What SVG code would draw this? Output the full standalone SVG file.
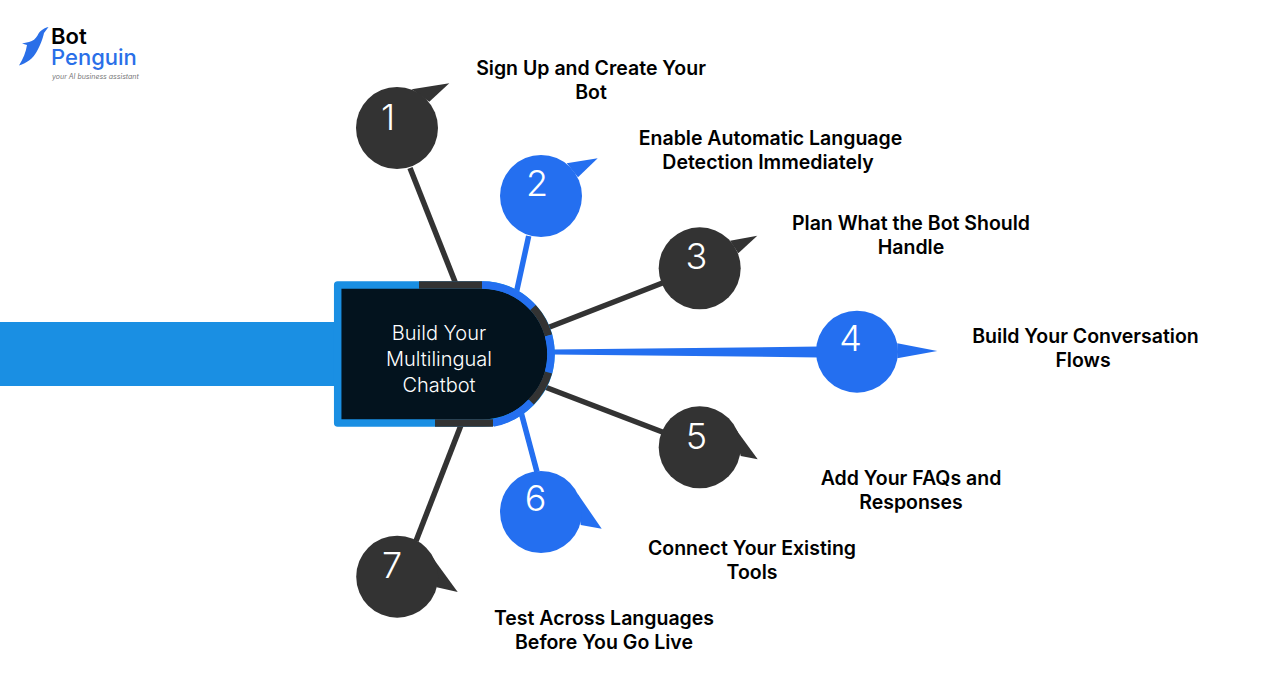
<svg xmlns="http://www.w3.org/2000/svg" width="1288" height="686" viewBox="0 0 1288 686">
<style>
.d{fill:#333333}.b{fill:#246ff0}
.ln{fill:none;stroke-width:5.5}.ld{stroke:#333333}.lb{stroke:#246ff0}
.rg{fill:none;stroke-width:7.5}
.n{font-family:Inter,"Liberation Sans",sans-serif;font-size:36px;font-weight:300;fill:#ffffff;text-anchor:middle}
.t{font-family:Inter,"Liberation Sans",sans-serif;font-size:19.5px;font-weight:600;fill:#000000;text-anchor:middle}
.c{font-family:Inter,"Liberation Sans",sans-serif;font-size:20px;font-weight:300;fill:#ffffff;text-anchor:middle}
</style>
<rect width="1288" height="686" fill="#ffffff"/>
<g id="logo">
<path d="M48.5,27 C43,28.5 39.5,31 37.5,35.5 C35.5,39 33,41 29,42 L22,43.5 L27,45 C26,52 23,59 19,65.5 C27,63 33,58.5 36.5,52 C40,46 43,38 44,33 Z" fill="#2a6fe8"/>
<text x="51" y="43.5" font-family="Inter,'Liberation Sans',sans-serif" font-size="22px" font-weight="600" fill="#000000">Bot</text>
<text x="51" y="65" font-family="Inter,'Liberation Sans',sans-serif" font-size="22px" font-weight="500" fill="#2a6fe8">Penguin</text>
<text x="52" y="79" font-family="Inter,'Liberation Sans',sans-serif" font-size="7px" font-style="italic" fill="#777777">your AI business assistant</text>
</g>
<g id="bar"><rect x="0" y="322" width="336" height="64" fill="#1a8fe3"/></g>
<g id="connectors">
<path class="ln ld" d="M410,168 L455.5,283"/>
<path class="ln lb" d="M528.7,236 L516.7,291"/>
<path class="ln ld" d="M547,328 L665,282"/>
<path class="b" d="M553,349.5 L820,346.5 L820,357.5 L553,354.5 Z"/>
<path class="ln ld" d="M545,387 L665,433"/>
<path class="ln lb" d="M521,412 L537,472"/>
<path class="ln ld" d="M463,420 L416,541"/>
</g>
<g id="center">
<path d="M337.7,285 L482,285 A69,69 0 0 1 482,423 L337.7,423 L337.7,285 Z" fill="#03131e" stroke="#1a8fe3" stroke-width="7.5" stroke-linejoin="round"/>
<path class="rg" stroke="#333333" d="M419,285 L482,285"/>
<path class="rg" stroke="#246ff0" d="M482,285 A69,69 0 0 1 533,307.5"/>
<path class="rg" stroke="#333333" d="M533,307.5 A69,69 0 0 1 548.5,335.5"/>
<path class="rg" stroke="#246ff0" d="M548.5,335.5 A69,69 0 0 1 548.5,372.5"/>
<path class="rg" stroke="#333333" d="M548.5,372.5 A69,69 0 0 1 531,402"/>
<path class="rg" stroke="#246ff0" d="M531,402 A69,69 0 0 1 493,423"/>
<path class="rg" stroke="#333333" d="M493,423 L435,423"/>
<text class="c"><tspan x="439" y="340">Build Your</tspan><tspan x="439" y="366">Multilingual</tspan><tspan x="439" y="392">Chatbot</tspan></text>
</g>
<g id="node1"><path class="d" d="M411.7,89.3 L449.3,83.3 L429.3,101.7 Z"/><circle class="d" cx="397" cy="128" r="41"/><text class="n" x="388" y="130">1</text>
<text class="t"><tspan x="591" y="75">Sign Up and Create Your</tspan><tspan x="591" y="99">Bot</tspan></text></g>
<g id="node2"><path class="b" d="M566.7,163.3 L597.7,158.3 L578,177.3 Z"/><circle class="b" cx="541" cy="196" r="41"/><text class="n" x="537" y="196">2</text>
<text class="t"><tspan x="770.5" y="145">Enable Automatic Language</tspan><tspan x="768" y="169">Detection Immediately</tspan></text></g>
<g id="node3"><path class="d" d="M730,240.7 L757.3,235.7 L738.3,253.3 Z"/><circle class="d" cx="699.7" cy="268.3" r="41"/><text class="n" x="696.5" y="269">3</text>
<text class="t"><tspan x="911" y="230">Plan What the Bot Should</tspan><tspan x="911" y="254">Handle</tspan></text></g>
<g id="node4"><path class="b" d="M897.3,343.3 L937.3,351 L897.3,358.3 Z"/><circle class="b" cx="857" cy="351.7" r="41"/><text class="n" x="850.5" y="351">4</text>
<text class="t"><tspan x="1085.5" y="343">Build Your Conversation</tspan><tspan x="1083" y="367">Flows</tspan></text></g>
<g id="node5"><path class="d" d="M732.7,425 L757.7,459.3 L740.7,456 Z"/><circle class="d" cx="699.7" cy="447.3" r="41"/><text class="n" x="696.5" y="449">5</text>
<text class="t"><tspan x="911" y="485">Add Your FAQs and</tspan><tspan x="911" y="509">Responses</tspan></text></g>
<g id="node6"><path class="b" d="M577.3,493.3 L601.7,528.7 L580.7,525 Z"/><circle class="b" cx="541" cy="512" r="41"/><text class="n" x="535.5" y="511">6</text>
<text class="t"><tspan x="752" y="555">Connect Your Existing</tspan><tspan x="752" y="579">Tools</tspan></text></g>
<g id="node7"><path class="d" d="M430.7,555 L457.7,592 L436.7,587.3 Z"/><circle class="d" cx="397.2" cy="576.7" r="41"/><text class="n" x="392" y="578">7</text>
<text class="t"><tspan x="604" y="625">Test Across Languages</tspan><tspan x="604" y="649">Before You Go Live</tspan></text></g>
</svg>
